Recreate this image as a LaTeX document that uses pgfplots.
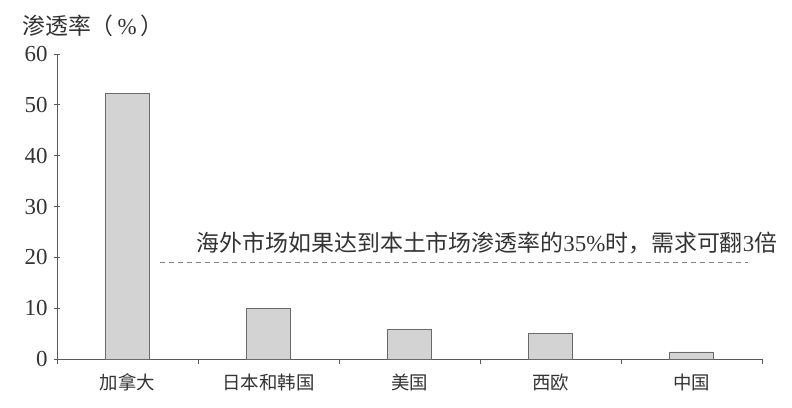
\documentclass[border=0pt]{standalone}
\usepackage{fontspec}
\setmainfont{Liberation Serif}
\newfontfamily\cjk{Noto Sans CJK SC}
\usepackage{pgfplots}
\pgfplotsset{compat=1.18}
\usetikzlibrary{calc}
\definecolor{barfill}{HTML}{D3D3D3}
\definecolor{baredge}{HTML}{6A6A6A}
\definecolor{axgray}{HTML}{5A5A5A}
\definecolor{txt}{HTML}{333333}
\begin{document}
\begin{tikzpicture}
\begin{axis}[
    width=705bp, height=305bp, scale only axis,
    xmin=-0.5, xmax=4.5, ymin=0, ymax=60,
    axis x line=bottom, axis y line=left,
    axis line style={-, axgray, line width=0.7pt},
    clip=false,
    xtick={0,1,2,3,4},
    xticklabels={加拿大,日本和韩国,美国,西欧,中国},
    x tick label style={font=\cjk\fontsize{18.5}{21}\selectfont, text=txt, yshift=-5bp},
    major x tick style={draw=none},
    minor xtick={-0.5,0.5,1.5,2.5,3.5,4.5},
    minor x tick style={axgray, line width=0.7pt},
    minor tick length=5bp,
    ytick={0,10,...,60},
    y tick style={axgray, line width=0.7pt},
    major tick length=6bp,
    tick align=center,
    y tick label style={font=\fontsize{23}{26}\selectfont, text=txt, xshift=-3bp},
    /pgf/number format/assume math mode=true,
    ybar, bar width=44bp,
]
\addplot[fill=barfill, draw=baredge, line width=0.7pt] coordinates {
    (0,52.2) (1,10.0) (2,5.85) (3,4.95) (4,1.4)
};
\addplot[sharp plot, draw=gray, line width=0.6pt, dash pattern=on 5bp off 4bp] coordinates {
    (0.23,19.1) (4.40,19.1)
};
\node[anchor=west, inner sep=0pt, text=txt, font=\cjk\fontsize{23}{26}\selectfont]
    at (axis cs:0.49,22.9) {海外市场如果达到本土市场渗透率的{\rmfamily 35\%}时，需求可翻{\rmfamily 3}倍};
\end{axis}
\node[anchor=west, inner sep=0pt, text=txt, font=\cjk\fontsize{23}{26}\selectfont]
    at ($(current axis.north west)+(-35bp,28bp)$) {渗透率（\,{\rmfamily \%}\,）};
\path ($(current axis.south west)+(-57bp,-49bp)$) rectangle ($(current axis.north east)+(30bp,54bp)$);
\end{tikzpicture}
\end{document}
